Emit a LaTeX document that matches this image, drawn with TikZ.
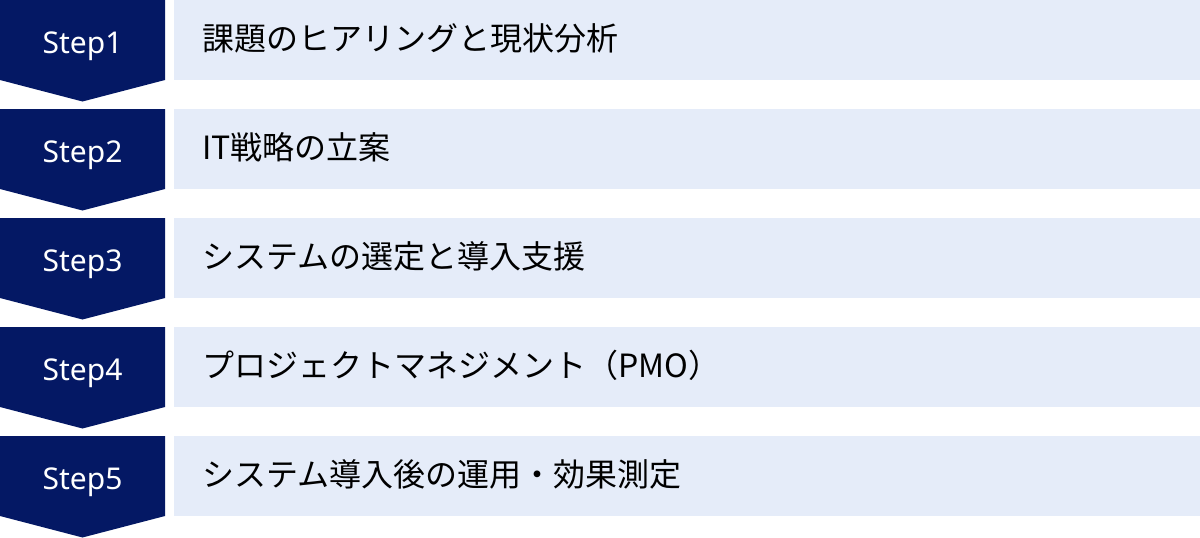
\documentclass[tikz,border=0pt]{standalone}
\usepackage{fontspec}
\setmainfont{Noto Sans}
\newfontfamily\jpfont{Noto Sans CJK JP}
\usetikzlibrary{positioning}
\definecolor{stepnavy}{RGB}{4,24,100}
\definecolor{tasktint}{RGB}{229,236,249}
\tikzset{
    x=1pt,y=-1pt,
    stepshape/.style={fill=stepnavy},
    steplabel/.style={text=white,inner sep=0pt,anchor=base,font=\fontsize{30}{30}\selectfont},
    taskbox/.style={fill=tasktint,minimum width=1026pt,minimum height=80pt,inner sep=0pt,anchor=north west},
    tasklabel/.style={inner sep=0pt,anchor=base west,font=\jpfont\fontsize{32}{32}\selectfont}
}

\begin{document}
\begin{tikzpicture}
    \useasboundingbox (0,0) rectangle (1200,538);
    \foreach \i/\task in {1/課題のヒアリングと現状分析,
                          2/IT戦略の立案,
                          3/システムの選定と導入支援,
                          4/プロジェクトマネジメント（PMO）,
                          5/システム導入後の運用・効果測定}{
        \coordinate (c\i) at (0,{(\i-1)*109});
        % chevron
        \fill[stepshape] (c\i) -- ++(165,0) -- ++(0,80) -- ++(-82.5,21.5) -- ++(-82.5,-21.5) -- cycle;
        \node[steplabel] (step\i) at ([shift={(82.5,53)}]c\i) {Step\i};
        % task
        \node[taskbox] (task\i) at ([shift={(174,0)}]c\i) {};
        \node[tasklabel] (label\i) at ([shift={(202,50)}]c\i) {\task};
    }
\end{tikzpicture}
\end{document}
